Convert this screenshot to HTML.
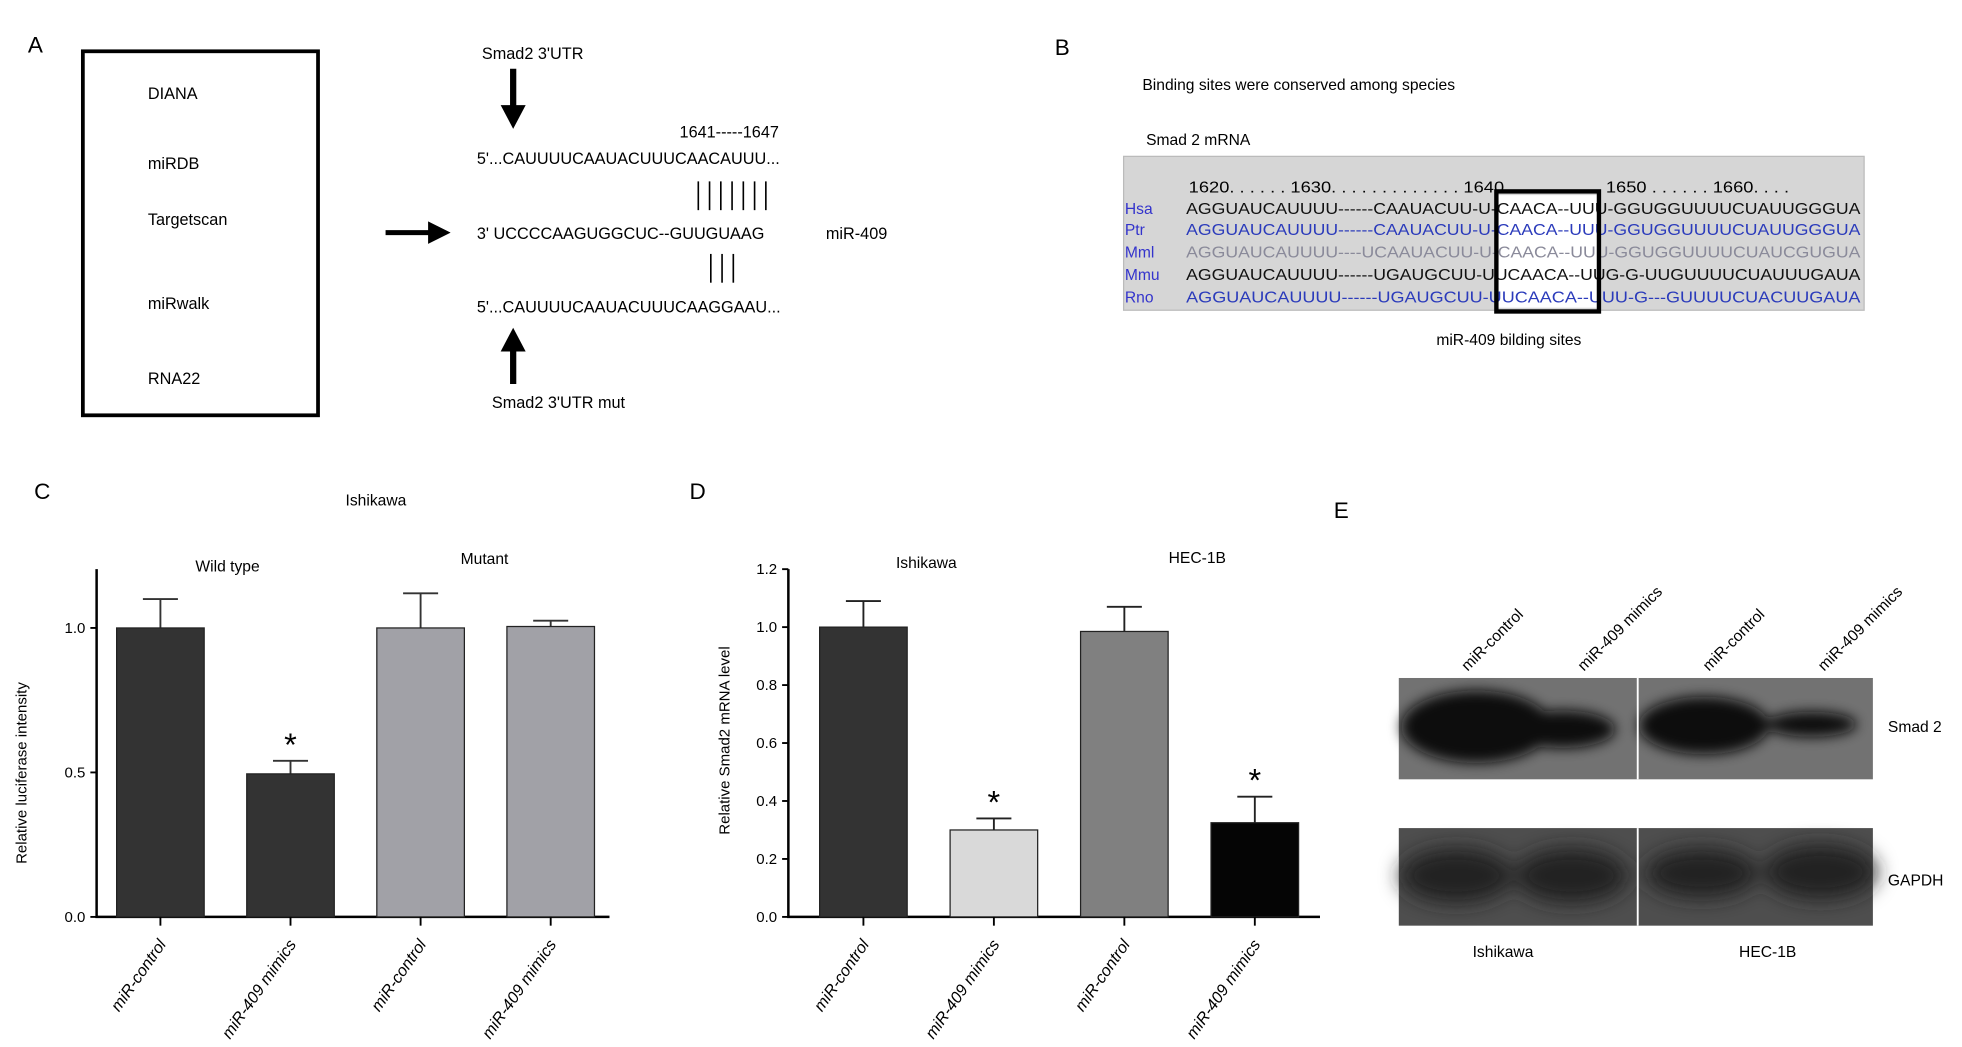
<!DOCTYPE html>
<html><head><meta charset="utf-8"><style>
html,body{margin:0;padding:0;background:#fff;}
svg{display:block;font-family:"Liberation Sans",Arial,sans-serif;}
</style></head><body>
<svg id="fig" width="1962" height="1047" viewBox="0 0 1568 837" xmlns="http://www.w3.org/2000/svg">
<defs>
<filter id="blur" x="-20%" y="-40%" width="140%" height="180%"><feGaussianBlur stdDeviation="5"/></filter>
<filter id="blur2" x="-20%" y="-40%" width="140%" height="180%"><feGaussianBlur stdDeviation="8"/></filter>
</defs>
<!-- Panel A -->
<g font-size="13">
<text x="22" y="42" font-size="18">A</text>
<rect x="66" y="41" width="188" height="291" fill="none" stroke="#000" stroke-width="3"/>
<text x="118" y="79">DIANA</text>
<text x="118" y="135">miRDB</text>
<text x="118" y="180">Targetscan</text>
<text x="118" y="247">miRwalk</text>
<text x="118" y="307">RNA22</text>
<line x1="308" y1="186" x2="345" y2="186" stroke="#000" stroke-width="4"/>
<path d="M342,177 L360,186 L342,195 z" fill="#000"/>
<text x="385" y="47">Smad2 3'UTR</text>
<line x1="410" y1="55" x2="410" y2="86" stroke="#000" stroke-width="5"/>
<path d="M400,84 L410,103 L420,84 z" fill="#000"/>
<text x="543" y="110">1641-----1647</text>
<text x="381" y="131">5'...CAUUUUCAAUACUUUCAACAUUU...</text>
<g stroke="#000" stroke-width="1.3">
<line x1="558" y1="145" x2="558" y2="168"/><line x1="567" y1="145" x2="567" y2="168"/><line x1="576" y1="145" x2="576" y2="168"/><line x1="585" y1="145" x2="585" y2="168"/><line x1="594" y1="145" x2="594" y2="168"/><line x1="603" y1="145" x2="603" y2="168"/><line x1="612" y1="145" x2="612" y2="168"/>
</g>
<text x="381" y="191">3'   UCCCCAAGUGGCUC--GUUGUAAG</text>
<text x="660" y="191">miR-409</text>
<g stroke="#000" stroke-width="1.3">
<line x1="568" y1="203" x2="568" y2="226"/><line x1="577" y1="203" x2="577" y2="226"/><line x1="586" y1="203" x2="586" y2="226"/>
</g>
<text x="381" y="250">5'...CAUUUUCAAUACUUUCAAGGAAU...</text>
<path d="M400,281 L410,262 L420,281 z" fill="#000"/>
<line x1="410" y1="279" x2="410" y2="307" stroke="#000" stroke-width="5"/>
<text x="393" y="326">Smad2 3'UTR mut</text>
</g>
<!-- Panel B -->
<g font-size="12.5">
<text x="843" y="44" font-size="18">B</text>
<text x="913" y="72">Binding sites were conserved among species</text>
<text x="916" y="116">Smad 2 mRNA</text>
<rect x="898" y="125" width="592" height="123" fill="#d6d6d6" stroke="#bbb"/>
<rect x="1197" y="156" width="80" height="90" fill="#fff"/>
<text x="950" y="154" textLength="480" lengthAdjust="spacingAndGlyphs">1620. . . . . . 1630. . . . . . . . . . . . . 1640. . . . . . . . . . 1650 . . . . . . 1660. . . .</text>
<g font-size="12.5">
<text x="899" y="171" fill="#3333cc">Hsa</text><text x="948" y="171" textLength="539" lengthAdjust="spacingAndGlyphs" fill="#111">AGGUAUCAUUUU------CAAUACUU-U-CAACA--UUU-GGUGGUUUUCUAUUGGGUA</text>
<text x="899" y="188" fill="#3333cc">Ptr</text><text x="948" y="188" textLength="539" lengthAdjust="spacingAndGlyphs" fill="#2b3bbb">AGGUAUCAUUUU------CAAUACUU-U-CAACA--UUU-GGUGGUUUUCUAUUGGGUA</text>
<text x="899" y="206" fill="#3333cc">Mml</text><text x="948" y="206" textLength="539" lengthAdjust="spacingAndGlyphs" fill="#8a8a9a">AGGUAUCAUUUU----UCAAUACUU-U-CAACA--UUU-GGUGGUUUUCUAUCGUGUA</text>
<text x="899" y="224" fill="#3333cc">Mmu</text><text x="948" y="224" textLength="539" lengthAdjust="spacingAndGlyphs" fill="#111">AGGUAUCAUUUU------UGAUGCUU-UUCAACA--UUG-G-UUGUUUUCUAUUUGAUA</text>
<text x="899" y="242" fill="#3333cc">Rno</text><text x="948" y="242" textLength="539" lengthAdjust="spacingAndGlyphs" fill="#2b3bbb">AGGUAUCAUUUU------UGAUGCUU-UUCAACA--UUU-G---GUUUUCUACUUGAUA</text>
</g>
<rect x="1196" y="153" width="82" height="96" fill="none" stroke="#000" stroke-width="3.5"/>
<text x="1148" y="276">miR-409 bilding sites</text>
</g>
<!-- Panel C -->
<g id="panelC">
<text x="27" y="399" font-size="18">C</text>
<text x="276" y="404" font-size="12.5">Ishikawa</text>
<text x="156" y="457" font-size="12.5">Wild type</text>
<text x="368" y="451" font-size="12.5">Mutant</text>
<text transform="translate(21,618) rotate(-90)" text-anchor="middle" font-size="12">Relative luciferase intensity</text>
</g>
<!-- Panel D -->
<g id="panelD">
<text x="551" y="399" font-size="18">D</text>
<text x="716" y="454" font-size="12.5">Ishikawa</text>
<text x="934" y="450" font-size="12.5">HEC-1B</text>
<text transform="translate(583,592) rotate(-90)" text-anchor="middle" font-size="12">Relative Smad2 mRNA level</text>
</g>
<!-- Panel E -->
<g font-size="12.5">
<text x="1066" y="414" font-size="18">E</text>
<text transform="translate(1173,537) rotate(-45)">miR-control</text>
<text transform="translate(1266,537) rotate(-45)">miR-409 mimics</text>
<text transform="translate(1366,537) rotate(-45)">miR-control</text>
<text transform="translate(1458,537) rotate(-45)">miR-409 mimics</text>
<g>
<rect x="1118" y="542" width="379" height="81" fill="#727272"/>
<g filter="url(#blur)" fill="#0e0e0e">
<ellipse cx="1180" cy="581" rx="60" ry="29"/><ellipse cx="1249" cy="583" rx="42" ry="15"/>
<ellipse cx="1362" cy="580" rx="52" ry="23"/><ellipse cx="1448" cy="579" rx="36" ry="10"/>
</g>
<line x1="1309" y1="542" x2="1309" y2="623" stroke="#fff" stroke-width="1.5"/>
</g>
<g>
<rect x="1118" y="662" width="379" height="78" fill="#4e4e4e"/>
<g filter="url(#blur2)" fill="#222">
<ellipse cx="1164" cy="700" rx="45" ry="22"/><ellipse cx="1256" cy="700" rx="45" ry="22"/>
<ellipse cx="1360" cy="698" rx="45" ry="20"/><ellipse cx="1455" cy="697" rx="45" ry="22"/>
</g>
<line x1="1309" y1="662" x2="1309" y2="740" stroke="#fff" stroke-width="1.5"/>
</g>
<text x="1509" y="585">Smad 2</text>
<text x="1509" y="708">GAPDH</text>
<text x="1177" y="765">Ishikawa</text>
<text x="1390" y="765">HEC-1B</text>
</g>
</svg>
<script>
// Panel C data
const cCategories = ["miR-control","miR-409 mimics","miR-control","miR-409 mimics"];
const cValues = [1.0, 0.495, 1.0, 1.005];
const cErrors = [0.10, 0.045, 0.12, 0.02];
const cSig = [false, true, false, false];
const cTicks = [0.0, 0.5, 1.0];
// Panel D data
const dCategories = ["miR-control","miR-409 mimics","miR-control","miR-409 mimics"];
const dValues = [1.0, 0.30, 0.985, 0.325];
const dErrors = [0.09, 0.04, 0.085, 0.09];
const dSig = [false, true, false, true];
const dTicks = [0.0, 0.2, 0.4, 0.6, 0.8, 1.0, 1.2];

const NS="http://www.w3.org/2000/svg";
function mk(parent, tag, attrs){const e=document.createElementNS(NS,tag);for(const k in attrs)e.setAttribute(k,attrs[k]);parent.appendChild(e);return e;}

function drawChart(g, cfg){
  const y = v => cfg.y0 - (v - 0) / cfg.vmax * (cfg.y0 - cfg.yTop);
  const x = i => cfg.x0 + cfg.first + i * cfg.step;
  const ax = mk(g,'path',{d:`M${cfg.ax} ${cfg.axTop} L${cfg.ax} ${cfg.y0} L${cfg.axEnd} ${cfg.y0}`,fill:'none',stroke:'#000','stroke-width':2});
  
  
  cfg.ticks.forEach(t=>{
    const tk=mk(g,'line',{x1:cfg.ax-5,x2:cfg.ax,y1:y(t),y2:y(t),stroke:'#000','stroke-width':1.5});
    
    
    const lb=mk(g,'text',{x:cfg.ax-9,y:y(t)+4,'text-anchor':'end','font-size':12});
    lb.textContent=t.toFixed(1);
    
    
  });
  cfg.values.forEach((v,i)=>{
    const cx=x(i), w=cfg.bw;
    const e=cfg.errors[i];
    const el=mk(g,'path',{d:`M${cx} ${y(v)} L${cx} ${y(v+e)} M${cx-w*0.2} ${y(v+e)} L${cx+w*0.2} ${y(v+e)}`,stroke:cfg.errColor,'stroke-width':1.5,fill:'none'});
    
    
    const b=mk(g,'rect',{x:cx-w/2,y:y(v),width:w,height:cfg.y0-y(v),fill:cfg.colors[i],stroke:'#222','stroke-width':1});
    
    
    const tk=mk(g,'line',{x1:cx,x2:cx,y1:cfg.y0,y2:cfg.y0+7,stroke:'#000','stroke-width':1.5});
    
    
    const lb=mk(g,'text',{transform:`translate(${cx+5},${cfg.y0+22}) rotate(-55)`,'text-anchor':'end','font-size':13,'font-style':'italic'});
    lb.textContent=cfg.cats[i];
    
    
    if(cfg.sig[i]){
      const s=mk(g,'text',{x:cx,y:y(v+e)-4,'text-anchor':'middle','font-size':26});
      s.textContent='*';
      
      
    }
  });
}
drawChart(document.getElementById('panelC'),{
  ax:77, axTop:455, axEnd:487, y0:733, yTop:502, vmax:1.0, x0:0, first:128, step:104, bw:70,
  values:cValues, errors:cErrors, sig:cSig, ticks:cTicks, cats:cCategories,
  colors:['#333333','#333333','#a1a1a7','#a1a1a7'], errColor:'#333'
});
drawChart(document.getElementById('panelD'),{
  ax:630, axTop:455, axEnd:1055, y0:733, yTop:455, vmax:1.2, x0:0, first:690, step:104.3, bw:70,
  values:dValues, errors:dErrors, sig:dSig, ticks:dTicks, cats:dCategories,
  colors:['#333333','#d9d9d9','#808080','#050505'], errColor:'#222'
});
</script>
</body></html>
